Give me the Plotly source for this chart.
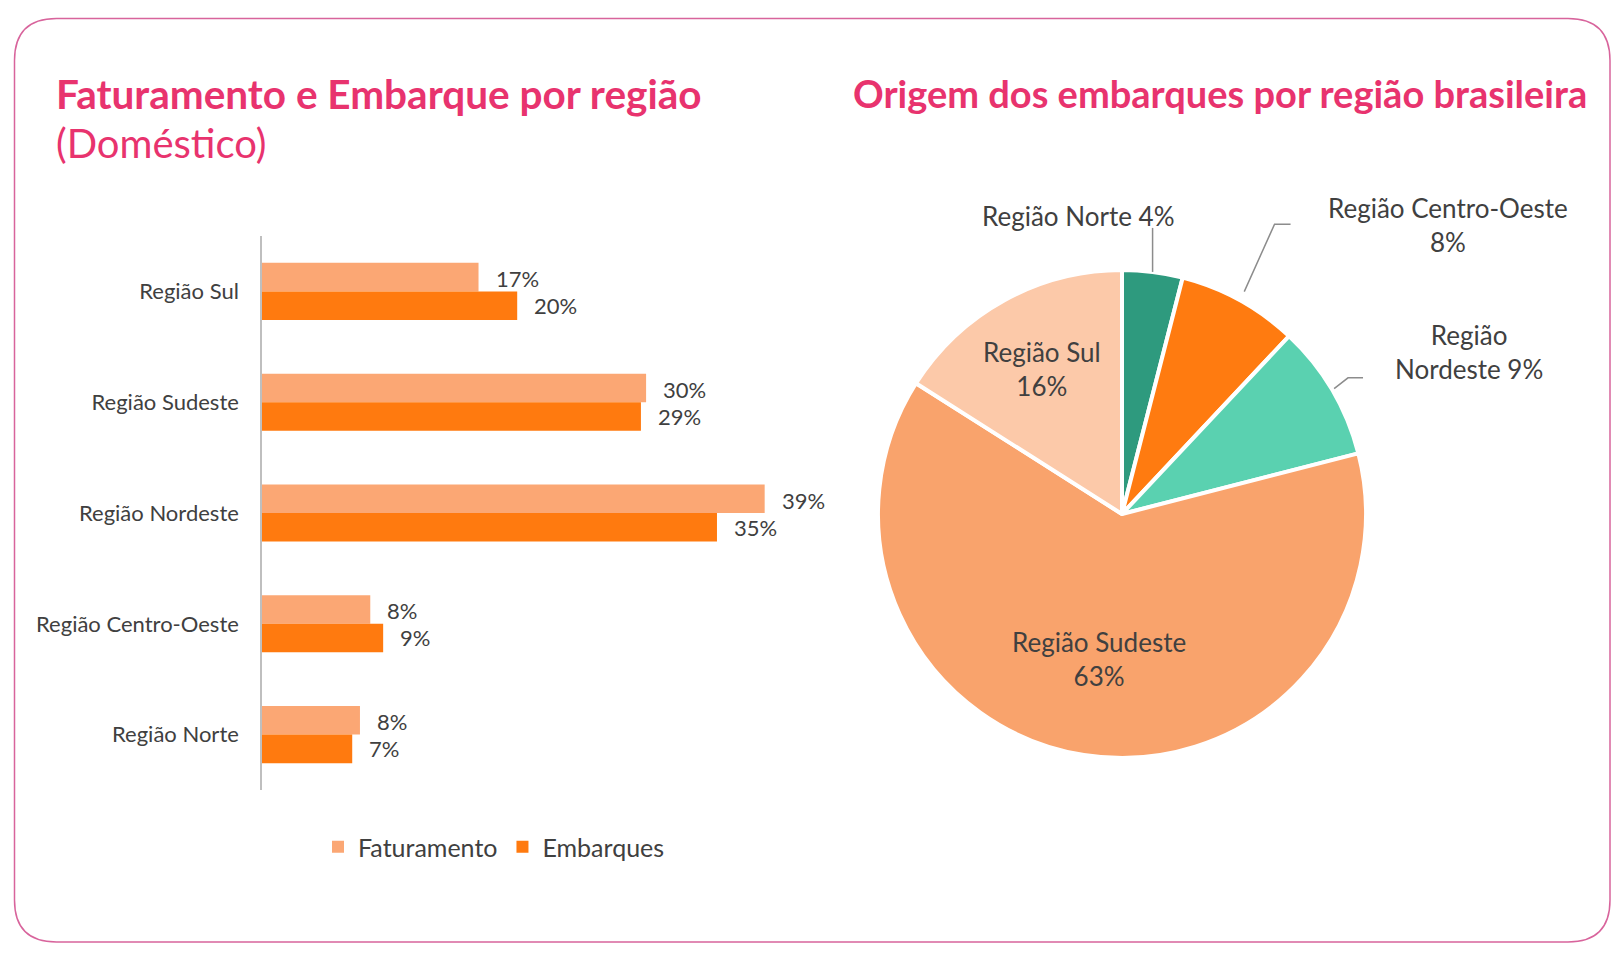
import math
import plotly.graph_objects as go

W, H = 1624, 969

# ---------------- data ----------------
regions = ["Região Sul", "Região Sudeste", "Região Nordeste", "Região Centro-Oeste", "Região Norte"]
faturamento = [16.8, 29.8, 39.0, 8.4, 7.6]
embarques = [19.8, 29.4, 35.3, 9.4, 7.0]
series_names = ["Faturamento", "Embarques"]

pie_labels = ["Região Norte", "Região Centro-Oeste", "Região Nordeste", "Região Sudeste", "Região Sul"]
pie_values = [4, 8, 9, 63, 16]

title_left = "Faturamento e Embarque por região"
subtitle_left = "(Doméstico)"
title_right = "Origem dos embarques por região brasileira"

# ---------------- styles ----------------
PINK = "#E8336E"
FRAME = "#D8649C"
TXT = "#404040"
FONT = "Lato"
bar_colors = ["#FBA774", "#FF7A0F"]
pie_colors = ["#2E9A7E", "#FF7B10", "#5AD1B0", "#F9A36C", "#FCC9A9"]


def px(x):
    return x / W


def py(y):
    return 1 - y / H


fig = go.Figure()

# ---------------- bar chart ----------------
for name, vals, col in zip(series_names, [faturamento, embarques], bar_colors):
    fig.add_trace(go.Bar(
        y=regions, x=vals, name=name, orientation="h",
        marker=dict(color=col, line=dict(width=0)),
        xaxis="x", yaxis="y", hoverinfo="skip",
    ))

annotations = []
for vals, ys in zip([faturamento, embarques], [13, -14]):
    for reg, v in zip(regions, vals):
        annotations.append(dict(
            x=v, y=reg, xref="x", yref="y", text=f"{round(v)}%",
            showarrow=False, xanchor="left", yanchor="middle",
            xshift=15, yshift=ys, font=dict(family=FONT, size=22, color=TXT),
        ))

# ---------------- pie chart ----------------
cx, cy, R = 1122, 514, 244
fig.add_trace(go.Pie(
    labels=pie_labels, values=pie_values, sort=False, direction="clockwise",
    rotation=0, textinfo="none", hoverinfo="skip", showlegend=False,
    marker=dict(colors=pie_colors, line=dict(color="white", width=4)),
    domain=dict(x=[px(cx - R), px(cx + R)], y=[py(cy + R), py(cy - R)]),
))

total = sum(pie_values)
label_fmt = ["{l} {v}%", "{l}<br>{v}%", "{a}<br>{b} {v}%", "{l}<br>{v}%", "{l}<br>{v}%"]
label_layout = [
    dict(mode="out", start=1.0, pts=[(0, -44)], text=(-75, -56)),
    dict(mode="out", start=1.04, pts=[(35, -76), (51, -76)], text=(208, -75)),
    dict(mode="out", start=1.01, pts=[(16, -12), (31, -12)], text=(137, -38)),
    dict(mode="in", rf=0.60),
    dict(mode="in", rf=0.68),
]
shapes = []
cum = 0
for lab, v, fmt, lay in zip(pie_labels, pie_values, label_fmt, label_layout):
    ang = (cum + v / 2) / total * 2 * math.pi
    cum += v
    a, b = lab.split(" ", 1)
    text = fmt.format(l=lab, v=v, a=a, b=b)
    if lay["mode"] == "in":
        tx = cx + lay["rf"] * R * math.sin(ang)
        ty = cy - lay["rf"] * R * math.cos(ang)
    else:
        ex = cx + R * math.sin(ang)
        ey = cy - R * math.cos(ang)
        sx = cx + lay["start"] * R * math.sin(ang)
        sy = cy - lay["start"] * R * math.cos(ang)
        path = f"M {px(sx)},{py(sy)}"
        for dx, dy in lay["pts"]:
            path += f" L {px(ex + dx)},{py(ey + dy)}"
        shapes.append(dict(type="path", xref="paper", yref="paper", path=path,
                           line=dict(color="#8C8C8C", width=1.5)))
        tx = ex + lay["text"][0]
        ty = ey + lay["text"][1]
    annotations.append(dict(
        x=px(tx), y=py(ty), xref="paper", yref="paper", text=text,
        showarrow=False, xanchor="center", yanchor="middle", align="center",
        font=dict(family=FONT, size=26, color=TXT),
    ))

# ---------------- titles ----------------
annotations += [
    dict(x=px(54), y=py(93), xref="paper", yref="paper", text=f"<b>{title_left}</b>",
         showarrow=False, xanchor="left", yanchor="middle",
         font=dict(family=FONT, size=40.5, color=PINK)),
    dict(x=px(54), y=py(143), xref="paper", yref="paper", text=subtitle_left,
         showarrow=False, xanchor="left", yanchor="middle",
         font=dict(family=FONT, size=40, color=PINK)),
    dict(x=px(851), y=py(93), xref="paper", yref="paper", text=f"<b>{title_right}</b>",
         showarrow=False, xanchor="left", yanchor="middle",
         font=dict(family=FONT, size=38, color=PINK)),
]

# ---------------- frame ----------------
L, Rr, T, B = px(14.5), px(1610), py(18.6), py(942)
rx, ry = 42 / W, 42 / H
frame = (f"M {L + rx},{T} L {Rr - rx},{T} Q {Rr},{T} {Rr},{T - ry} "
         f"L {Rr},{B + ry} Q {Rr},{B} {Rr - rx},{B} L {L + rx},{B} "
         f"Q {L},{B} {L},{B + ry} L {L},{T - ry} Q {L},{T} {L + rx},{T} Z")
shapes.append(dict(type="path", xref="paper", yref="paper", path=frame,
                   line=dict(color=FRAME, width=1.5), layer="below"))

fig.update_layout(
    width=W, height=H, margin=dict(l=0, r=0, t=0, b=0),
    paper_bgcolor="white", plot_bgcolor="white",
    barmode="group", bargap=0.485, bargroupgap=0,
    xaxis=dict(domain=[px(262), px(842)], range=[0, 45], visible=False, fixedrange=True),
    yaxis=dict(domain=[py(790), py(236)], type="category", categoryorder="array",
               categoryarray=regions, autorange="reversed", showline=True,
               linecolor="#BFBFBF", linewidth=1.5, showgrid=False, ticks="",
               ticklabelstandoff=17, tickfont=dict(family=FONT, size=22, color=TXT),
               fixedrange=True),
    legend=dict(orientation="h", x=px(318), xanchor="left", y=py(847), yanchor="middle",
                font=dict(family=FONT, size=25, color=TXT), bgcolor="rgba(0,0,0,0)",
                itemclick=False, itemdoubleclick=False),
    annotations=annotations, shapes=shapes,
    showlegend=True,
)

fig.write_html("out.html")
